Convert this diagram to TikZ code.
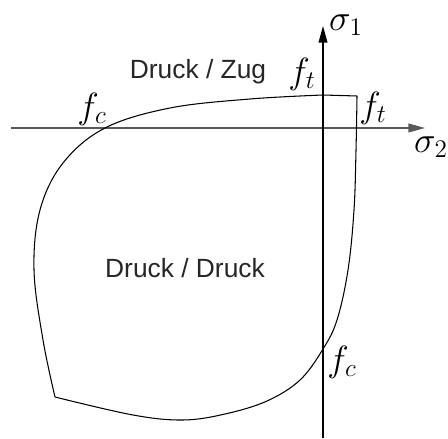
\documentclass[tikz,border=0pt]{standalone}
\usepackage{fontspec}
\setsansfont{Liberation Sans}
\usepackage{tikz}
\usetikzlibrary{arrows.meta}

\begin{document}
\begin{tikzpicture}[x=0.02cm, y=-0.02cm,
        >={Triangle[length=9.5pt, width=5pt]},
        lbl/.style={font=\fontsize{15}{18}\selectfont\sffamily, text=black!85},
        sym/.style={font=\fontsize{22}{26}\selectfont, inner sep=0pt},
        curve/.style={line width=0.6pt}]
        \useasboundingbox (0,0) rectangle (448,438);

        \coordinate (xl) at (11,128);
        \coordinate (xr) at (425,128);
        \coordinate (yb) at (323,438);
        \coordinate (yt) at (323,26);

        \draw[->, line width=0.9pt, black!65] (xl) -- (xr);
        \draw[->, line width=0.8pt] (yb) -- (yt);

        \node[sym] (sig1) at (346,25) {$\sigma_1$};
        \node[sym] (sig2) at (431,147) {$\sigma_2$};
        \node[sym] (ftop) at (302,74) {$f_t$};
        \node[sym] (fright) at (373,108) {$f_t$};
        \node[sym] (fleft) at (92,109) {$f_c$};
        \node[sym] (fbot) at (342,362) {$f_c$};

        \node[lbl] (zug) at (198,72) {Druck / Zug};
        \node[lbl] (druck) at (185,268) {Druck / Druck};

        \draw[curve] plot[smooth, tension=0.6] coordinates {(55,397) (43,340) (34,270) (40,210) (63,163) (105,128) (170,108) (250,99) (323,95)} -- (357,96);
        \draw[curve] plot[smooth, tension=0.6] coordinates {(357,96) (356,150) (354,210) (348,270) (337,320) (323,349) (300,380) (267,401) (225,414) (183,420) (133,415) (55,397)};
    \end{tikzpicture}
\end{document}
